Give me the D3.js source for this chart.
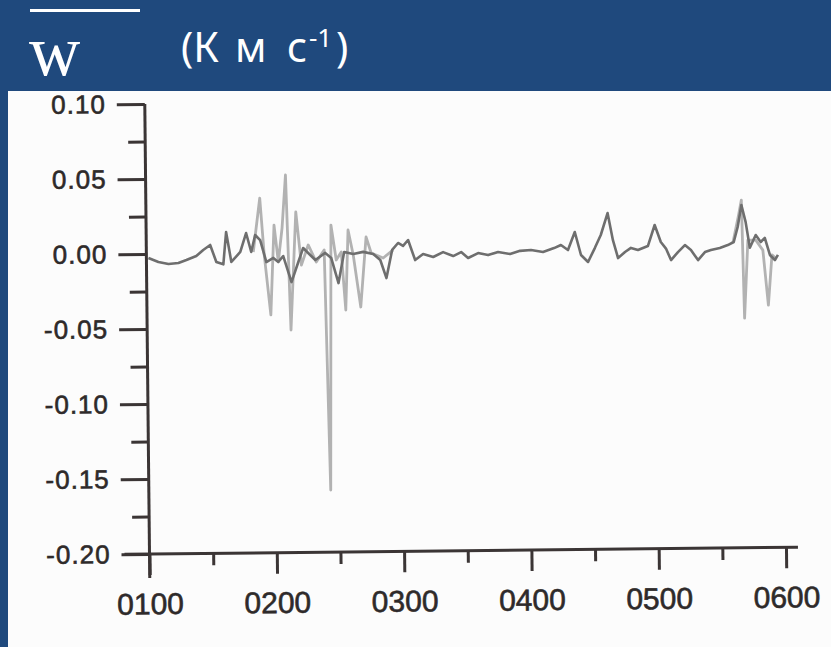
<!DOCTYPE html>
<html>
<head>
<meta charset="utf-8">
<script src="https://cdn.jsdelivr.net/npm/d3@7"></script>
<style>
  html, body { margin: 0; padding: 0; background: #1f497d; }
  svg { display: block; }
</style>
</head>
<body>
<svg id="chart" width="831" height="647"></svg>
<script>
// ---- data (time in hours, value in K m s^-1) ----
const darkHours = [1.016,1.094,1.173,1.251,1.314,1.392,1.447,1.502,1.549,1.604,
  1.628,1.667,1.738,1.785,1.824,1.856,1.895,1.942,1.997,2.036,
  2.075,2.138,2.193,2.232,2.287,2.327,2.405,2.452,2.507,2.554,
  2.625,2.703,2.782,2.837,2.884,2.931,2.978,3.017,3.057,3.111,
  3.174,3.253,3.331,3.410,3.473,3.527,3.606,3.684,3.763,3.857,
  3.936,4.022,4.116,4.203,4.257,4.312,4.367,4.414,4.469,4.524,
  4.571,4.626,4.666,4.705,4.760,4.807,4.862,4.940,4.995,5.042,
  5.082,5.121,5.176,5.231,5.278,5.333,5.388,5.435,5.505,5.568,
  5.615,5.647,5.678,5.710,5.741,5.788,5.827,5.859,5.898,5.937,5.961];
const darkValues = [-0.0027,-0.0054,-0.0068,-0.0062,-0.0043,-0.0017,0.0023,0.0056,-0.0058,-0.0074,
  0.0141,-0.0059,0.0007,0.0133,0.0006,0.0119,0.0085,-0.0062,-0.0035,-0.0062,
  -0.0023,-0.0197,-0.0064,0.0029,-0.0018,-0.0052,-0.0005,-0.004,-0.0207,0,
  -0.0014,-0.0001,-0.0016,-0.0056,-0.0177,0.001,0.0056,0.0036,0.0075,-0.0059,
  -0.0019,-0.004,-0.0008,-0.0035,-0.0009,-0.0049,-0.0017,-0.0031,-0.0011,-0.0025,
  -0.0005,0,-0.0014,0.0011,0.0031,-0.0003,0.0117,-0.0037,-0.0084,0.001,
  0.0095,0.0241,0.006,-0.006,-0.002,0.0007,-0.0008,0.0018,0.0158,0.0044,
  0,-0.0077,-0.0024,0.0022,-0.0012,-0.0079,-0.0026,-0.0013,0,0.0019,
  0.0039,0.0139,0.0285,0.0171,0,0.0084,0.0037,0.0064,-0.005,-0.0084,-0.005];

const lightAHours = [1.840,1.895,1.926,1.973,2.005,2.036,2.068,2.099,2.130,2.177,2.217,2.272,2.334,
  2.397,2.429,2.452,2.491,2.531,2.562,2.586,2.625,2.680,2.727,2.766,2.860,2.939];
const lightAValues = [0.0006,0.0365,-0.0015,-0.0415,0.0184,-0.0062,0.0164,0.0517,-0.0517,0.027,-0.0084,0.0049,-0.0065,
  0.0015,-0.1586,0.018,-0.0053,0,-0.0387,0.0146,-0.0021,-0.0368,0.0098,-0.0009,-0.0043,0.001];

const lightBHours = [5.608,5.655,5.678,5.694,5.726,5.788,5.843,5.882,5.914,5.945];
const lightBValues = [0.0032,0.0218,0.0318,-0.0469,0.0051,0.005,-0.0017,-0.0384,-0.005,-0.0071];

const xMajorTicks = [1,2,3,4,5,6];
const xMinorTicks = [1.5,2.5,3.5,4.5,5.5];
const yMajorTicks = [0.10,0.05,0.00,-0.05,-0.10,-0.15,-0.20];
const yMinorTicks = [0.075,0.025,-0.025,-0.075,-0.125,-0.175];

// ---- drawing ----
const svg = d3.select("#chart");

// header
svg.append("rect").attr("x",0).attr("y",0).attr("width",831).attr("height",647).attr("fill","#1f497d");
svg.append("line").attr("x1",30).attr("x2",140).attr("y1",10.5).attr("y2",10.5)
  .attr("stroke","#ffffff").attr("stroke-width",3);
svg.append("text").attr("x",29).attr("y",75).text("w")
  .attr("font-family","'Liberation Serif', 'Times New Roman', serif").attr("font-size",71).attr("fill","#ffffff");
const unitFont = "'Noto Sans', 'Open Sans', sans-serif";
const unit = svg.append("g").attr("fill","#ffffff").attr("font-family",unitFont);
unit.append("text").attr("x",181).attr("y",62).attr("font-size",41).text("(К");
unit.append("text").attr("x",235).attr("y",62).attr("font-size",41).text("м");
unit.append("text").attr("x",287).attr("y",62).attr("font-size",41).text("с");
unit.append("text").attr("x",309).attr("y",47).attr("font-size",26).text("-1");
unit.append("text").attr("x",336).attr("y",62).attr("font-size",41).text(")");

// scanned paper area
svg.append("rect").attr("x",8).attr("y",91).attr("width",823).attr("height",556).attr("fill","#fcfcfc");

const x = d3.scaleLinear().domain([1,6]).range([149.5,786]);
const y = d3.scaleLinear().domain([-0.2,0.1]).range([554,104]);

const plot = svg.append("g").attr("transform", `rotate(-0.6, ${x(1)}, ${y(-0.2)})`);

const ink = "#3b3535";
const labelFont = "'Liberation Sans', Arial, sans-serif";

// y axis
const yMajor = plot.append("g").attr("transform",`translate(${x(1)},0)`)
  .call(d3.axisLeft(y).tickValues(yMajorTicks).tickSize(28).tickSizeOuter(0).tickPadding(11)
    .tickFormat(d => d.toFixed(2)));
const yMinor = plot.append("g").attr("transform",`translate(${x(1)},0)`)
  .call(d3.axisLeft(y).tickValues(yMinorTicks).tickSize(17).tickSizeOuter(0).tickFormat(""));

// x axis
const xMajor = plot.append("g").attr("transform",`translate(0,${y(-0.2)})`)
  .call(d3.axisBottom(x).tickValues(xMajorTicks).tickSize(21).tickSizeOuter(0).tickPadding(18)
    .tickFormat(d => "0" + d + "00"));
const xMinor = plot.append("g").attr("transform",`translate(0,${y(-0.2)})`)
  .call(d3.axisBottom(x).tickValues(xMinorTicks).tickSize(12).tickSizeOuter(0).tickFormat(""));

[yMajor,yMinor,xMajor,xMinor].forEach(g => {
  g.select(".domain").remove();
  g.selectAll(".tick line").attr("stroke",ink).attr("stroke-width",3);
  g.selectAll(".tick text").attr("fill","#2e2a2a").attr("stroke","#2e2a2a").attr("stroke-width",0.6)
    .attr("font-family",labelFont);
});
yMajor.selectAll(".tick text").attr("font-size",26).attr("letter-spacing","1px");
xMajor.selectAll(".tick text").attr("font-size",30).attr("dy","0.71em");

// axis lines
plot.append("line").attr("x1",x(1)).attr("x2",x(1)).attr("y1",y(0.1)).attr("y2",y(-0.2)+24)
  .attr("stroke",ink).attr("stroke-width",3);
plot.append("line").attr("x1",x(1)-25).attr("x2",x(6)+12).attr("y1",y(-0.2)).attr("y2",y(-0.2))
  .attr("stroke",ink).attr("stroke-width",3);

// series
const line = d3.line().x(d => x(d[0])).y(d => y(d[1]));
const zip = (a,b) => a.map((t,i) => [t,b[i]]);

plot.append("path").datum(zip(lightAHours,lightAValues)).attr("d",line)
  .attr("fill","none").attr("stroke","#b2b2b2").attr("stroke-width",2.8).attr("stroke-linejoin","round");
plot.append("path").datum(zip(lightBHours,lightBValues)).attr("d",line)
  .attr("fill","none").attr("stroke","#b2b2b2").attr("stroke-width",2.8).attr("stroke-linejoin","round");
plot.append("path").datum(zip(darkHours,darkValues)).attr("d",line)
  .attr("fill","none").attr("stroke","#6e6e6e").attr("stroke-width",2.6).attr("stroke-linejoin","round");
</script>
</body>
</html>
